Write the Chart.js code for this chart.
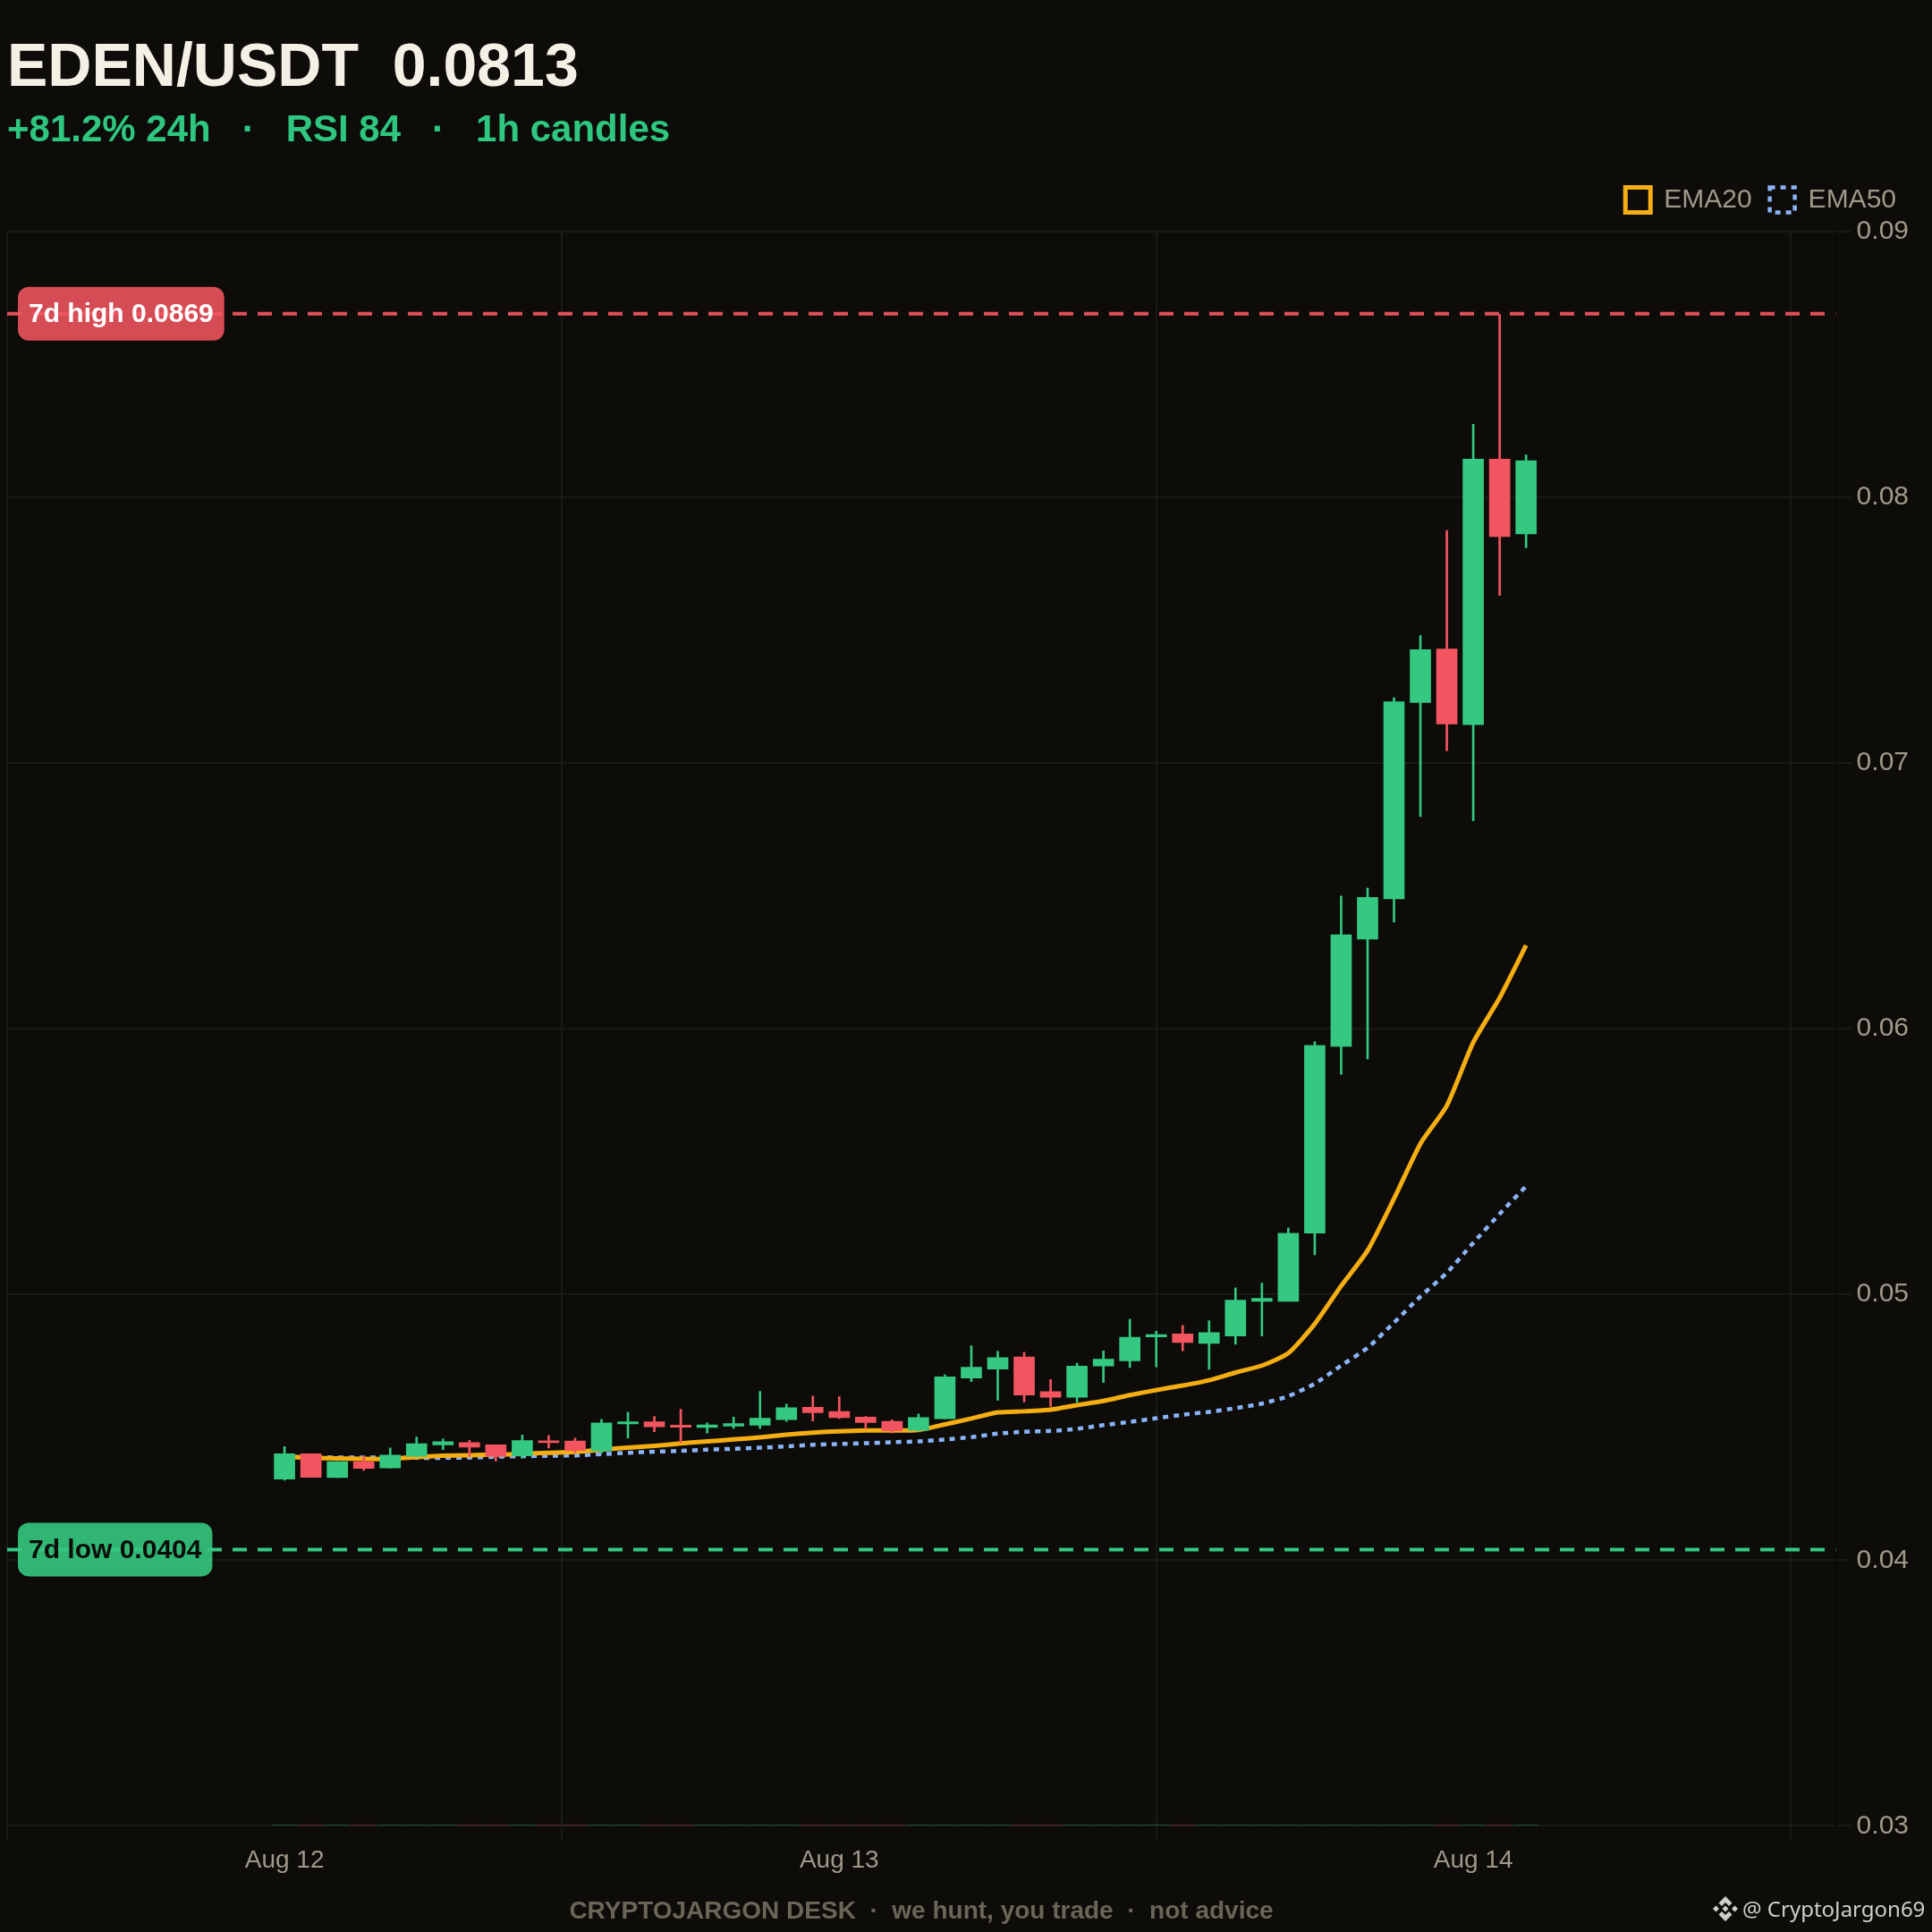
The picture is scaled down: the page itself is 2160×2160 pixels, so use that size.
<!DOCTYPE html>
<html>
<head>
<meta charset="utf-8">
<title>EDEN/USDT</title>
<script src="https://cdn.jsdelivr.net/npm/chart.js@4/dist/chart.umd.js"></script>
<style>
  html, body { margin: 0; background: #0d0c09; }
  #wrap { position: relative; width: 2160px; height: 2160px; overflow: hidden; }
  canvas { position: absolute; left: 0; top: 0; }
  .txt { position: absolute; white-space: pre; line-height: 1; font-family: "Liberation Sans", sans-serif; }
  #title { left: 8px; top: 38px; font-size: 68px; font-weight: bold; color: #f5f0e6; }
  #subtitle { left: 8px; top: 123px; font-size: 42px; font-weight: bold; color: #2fc67f; }
  #footer { left: 0; width: 2060px; text-align: center; top: 2122px; font-size: 28px; font-weight: bold; color: #6b6558; }
  #handle { left: 1948px; top: 2122px; font-size: 24px; font-family: "Noto Sans", sans-serif; color: #cfcfca; }
  #logo { position: absolute; left: 1915px; top: 2120px; width: 28px; height: 28px; }
</style>
</head>
<body>
<div id="wrap">
  <canvas id="chart" width="2160" height="2160"></canvas>
  <div id="title" class="txt">EDEN/USDT  0.0813</div>
  <div id="subtitle" class="txt">+81.2% 24h   ·   RSI 84   ·   1h candles</div>
  <div id="footer" class="txt">CRYPTOJARGON DESK  ·  we hunt, you trade  ·  not advice</div>
  <svg id="logo" viewBox="0 0 28 28" fill="#cfcfca">
    <path d="M14 0L21.5 7.5L18 11L14 7L10 11L6.500 7.500Z"/>
    <path d="M14 28L21.5 20.5L18 17L14 21L10 17L6.500 20.500Z"/>
    <path d="M14 10.500L17.500 14L14 17.500L10.500 14Z"/>
    <path d="M3.500 10.500L7 14L3.500 17.500L0 14Z"/>
    <path d="M24.500 10.500L28 14L24.500 17.500L21 14Z"/>
  </svg>
  <div id="handle" class="txt">@ CryptoJargon69</div>
</div>
<script>
// 1h candles
var opens = [0.04305, 0.04400, 0.04311, 0.04371, 0.04347, 0.04391, 0.04434, 0.04442, 0.04434, 0.04392, 0.04449, 0.04448,
    0.04411, 0.04513, 0.04521, 0.04508, 0.04499, 0.04504, 0.04508, 0.04529, 0.04575, 0.04559, 0.04538, 0.04522,
    0.04488, 0.04532, 0.04685, 0.04719, 0.04765, 0.04634, 0.04613, 0.04731, 0.04750, 0.04840, 0.04851, 0.04816,
    0.04843, 0.04974, 0.04974, 0.05230, 0.05933, 0.06337, 0.06488, 0.07227, 0.07428, 0.07144, 0.08143, 0.07861];
var closes = [0.04400, 0.04312, 0.04371, 0.04345, 0.04395, 0.04438, 0.04446, 0.04425, 0.04391, 0.04450, 0.04442, 0.04413,
    0.04516, 0.04521, 0.04502, 0.04500, 0.04509, 0.04514, 0.04534, 0.04574, 0.04555, 0.04536, 0.04518, 0.04487,
    0.04537, 0.04690, 0.04726, 0.04762, 0.04621, 0.04613, 0.04730, 0.04756, 0.04839, 0.04849, 0.04819, 0.04856,
    0.04978, 0.04985, 0.05230, 0.05937, 0.06353, 0.06494, 0.07230, 0.07426, 0.07146, 0.08143, 0.07851, 0.08137];
var highs = [0.04427, 0.04400, 0.04371, 0.04391, 0.04422, 0.04463, 0.04456, 0.04451, 0.04434, 0.04471, 0.04469, 0.04459,
    0.04530, 0.04557, 0.04541, 0.04568, 0.04516, 0.04538, 0.04635, 0.04587, 0.04617, 0.04615, 0.04541, 0.04528,
    0.04550, 0.04697, 0.04807, 0.04786, 0.04782, 0.04680, 0.04741, 0.04787, 0.04907, 0.04861, 0.04883, 0.04901,
    0.05025, 0.05042, 0.05250, 0.05951, 0.06499, 0.06529, 0.07245, 0.07479, 0.07874, 0.08274, 0.08687, 0.08159];
var lows = [0.04301, 0.04312, 0.04311, 0.04338, 0.04347, 0.04389, 0.04416, 0.04391, 0.04373, 0.04384, 0.04422, 0.04404,
    0.04402, 0.04460, 0.04483, 0.04442, 0.04478, 0.04496, 0.04495, 0.04522, 0.04524, 0.04533, 0.04494, 0.04478,
    0.04485, 0.04532, 0.04672, 0.04602, 0.04595, 0.04578, 0.04594, 0.04668, 0.04725, 0.04727, 0.04788, 0.04718,
    0.04812, 0.04843, 0.04974, 0.05149, 0.05828, 0.05886, 0.06401, 0.06798, 0.07045, 0.06782, 0.07630, 0.07809];
var ema20 = [0.04390, 0.04385, 0.04383, 0.04381, 0.04381, 0.04388, 0.04393, 0.04395, 0.04397, 0.04400, 0.04404, 0.04407,
    0.04416, 0.04423, 0.04430, 0.04439, 0.04447, 0.04454, 0.04462, 0.04472, 0.04480, 0.04485, 0.04488, 0.04488,
    0.04490, 0.04511, 0.04533, 0.04556, 0.04560, 0.04566, 0.04583, 0.04599, 0.04621, 0.04640, 0.04657, 0.04677,
    0.04706, 0.04732, 0.04779, 0.04889, 0.05032, 0.05165, 0.05360, 0.05567, 0.05710, 0.05948, 0.06116, 0.06313];
var ema50 = [0.04388, 0.04388, 0.04386, 0.04386, 0.04386, 0.04385, 0.04385, 0.04386, 0.04389, 0.04391, 0.04393, 0.04394,
    0.04399, 0.04404, 0.04408, 0.04411, 0.04416, 0.04419, 0.04423, 0.04428, 0.04434, 0.04437, 0.04440, 0.04444,
    0.04447, 0.04454, 0.04463, 0.04476, 0.04483, 0.04486, 0.04494, 0.04508, 0.04520, 0.04534, 0.04547, 0.04558,
    0.04572, 0.04589, 0.04617, 0.04664, 0.04732, 0.04799, 0.04894, 0.04992, 0.05081, 0.05194, 0.05303, 0.05407];

var high7d = 0.0869;
var low7d = 0.0404;
var dateLabels = ['Aug 12', 'Aug 13', 'Aug 14'];
var dateCandles = [0, 21, 45];      // candle index under each date label
var gridCandles = [-10.5, 10.5, 33, 57];
var xMin = -10.5;
var xMax = 58.73;
var yMin = 0.03;
var yMax = 0.09;

var GREEN = '#34c880';
var RED = '#f25560';
var GRID = '#191916';
var candleColor = function (i) { return closes[i] >= opens[i] ? GREEN : RED; };
var candleIdx = opens.map(function (v, i) { return i; });

var flatLine = function (v) { return [{ x: xMin, y: v }, { x: xMax, y: v }]; };
// the date labels sit between the vertical grid lines, so only some ticks get a line
var xGridColor = function (c) {
    return c.tick && gridCandles.indexOf(c.tick.value) >= 0 ? GRID : 'transparent';
};

// badges on the 7d high / low lines
var badgePlugin = {
    id: 'badges',
    afterDatasetsDraw: function (chart) {
        var ctx = chart.ctx;
        var y = chart.scales.y;
        var left = chart.chartArea.left + 12;
        [
            { text: '7d high ' + high7d, value: high7d, fill: 'rgba(242,85,96,0.88)', color: '#ffffff' },
            { text: '7d low ' + low7d, value: low7d, fill: 'rgba(52,200,128,0.9)', color: '#0d0c09' }
        ].forEach(function (b) {
            var py = y.getPixelForValue(b.value);
            ctx.save();
            ctx.font = 'bold 30px "Liberation Sans"';
            var w = ctx.measureText(b.text).width + 24;
            ctx.fillStyle = b.fill;
            ctx.beginPath();
            ctx.roundRect(left, py - 30, w, 60, 12);
            ctx.fill();
            ctx.fillStyle = b.color;
            ctx.textBaseline = 'middle';
            ctx.fillText(b.text, left + 12, py + 1);
            ctx.restore();
        });
    },
    // a little more room between the legend and the plot
    beforeLayout: function (chart) {
        var legend = chart.legend;
        if (legend && !legend.patched) {
            var fit = legend.fit;
            legend.fit = function () {
                fit.call(this);
                this.height += 10;
            };
            legend.patched = true;
        }
    }
};

new Chart(document.getElementById('chart').getContext('2d'), {
    type: 'bar',
    plugins: [badgePlugin],
    data: {
        datasets: [
            {
                type: 'line', label: 'EMA20', order: 2,
                data: candleIdx.map(function (i) { return { x: i, y: ema20[i] }; }),
                borderColor: '#f5ae12', backgroundColor: 'transparent', borderWidth: 5,
                pointRadius: 0, tension: 0.2
            },
            {
                type: 'line', label: 'EMA50', order: 3,
                data: candleIdx.map(function (i) { return { x: i, y: ema50[i] }; }),
                borderColor: '#8ab4f8', backgroundColor: 'transparent', borderWidth: 4.5, borderDash: [6, 6],
                pointRadius: 0, tension: 0.2
            },
            {
                type: 'line', label: 'high', order: 4, data: flatLine(high7d),
                borderColor: '#e2505a', borderWidth: 4, borderDash: [16, 12], pointRadius: 0
            },
            {
                type: 'line', label: 'low', order: 4, data: flatLine(low7d),
                borderColor: '#34c880', borderWidth: 4, borderDash: [16, 12], pointRadius: 0
            },
            {
                label: 'body', order: 0, grouped: false, barThickness: 23,
                data: candleIdx.map(function (i) { return { x: i, y: [opens[i], closes[i]] }; }),
                backgroundColor: candleIdx.map(candleColor)
            },
            {
                label: 'wick', order: 1, grouped: false, barThickness: 2,
                data: candleIdx.map(function (i) { return { x: i, y: [lows[i], highs[i]] }; }),
                backgroundColor: candleIdx.map(candleColor)
            },
            {
                label: 'base', order: 5, grouped: false, barThickness: 28,
                data: candleIdx.map(function (i) { return { x: i, y: [yMin, yMin + 0.00006] }; }),
                backgroundColor: candleIdx.map(function (i) { return candleColor(i) + '30'; })
            }
        ]
    },
    options: {
        responsive: false,
        animation: false,
        devicePixelRatio: 1,
        layout: { padding: { left: 8, right: 20, top: 188.6, bottom: 57 } },
        plugins: {
            tooltip: { enabled: false },
            legend: {
                position: 'top',
                align: 'end',
                labels: {
                    boxWidth: 28, boxHeight: 28, padding: 20, color: '#a0988a',
                    font: { family: 'Liberation Sans', size: 30 },
                    filter: function (item) { return item.text.indexOf('EMA') === 0; }
                }
            }
        },
        scales: {
            x: {
                type: 'linear',
                min: xMin,
                max: xMax,
                offset: false,
                afterBuildTicks: function (scale) {
                    scale.ticks = gridCandles.concat(dateCandles).sort(function (a, b) { return a - b; })
                        .map(function (v) { return { value: v }; });
                },
                grid: { offset: false, tickLength: 16, lineWidth: 2, color: xGridColor, tickColor: xGridColor },
                border: { display: false },
                ticks: {
                    autoSkip: false, maxRotation: 0, padding: 6, color: '#a0988a',
                    font: { family: 'Liberation Sans', size: 28 },
                    callback: function (v) {
                        var k = dateCandles.indexOf(v);
                        return k >= 0 ? dateLabels[k] : '';
                    }
                }
            },
            y: {
                position: 'right',
                min: yMin,
                max: yMax,
                grid: { tickLength: 17, lineWidth: 2, color: GRID, tickColor: GRID },
                border: { color: '#090906', width: 2 },
                ticks: {
                    stepSize: 0.01, padding: 6, color: '#a0988a',
                    font: { family: 'Liberation Sans', size: 30 },
                    callback: function (v) { return v.toFixed(2); }
                }
            }
        }
    }
});
</script>
</body>
</html>
